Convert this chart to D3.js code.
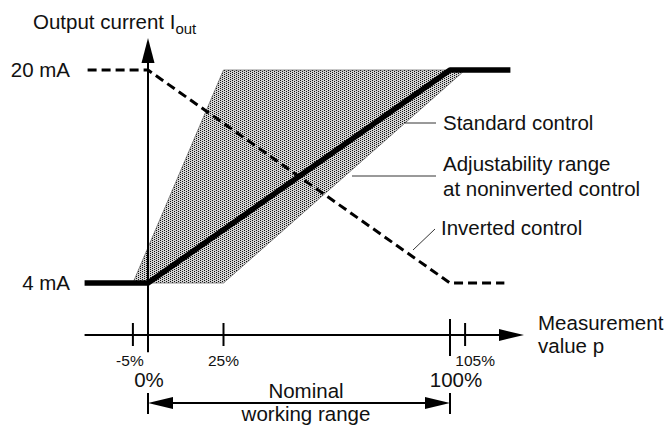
<!DOCTYPE html>
<html lang="en">
<head>
<meta charset="utf-8">
<title>Output current vs measurement value</title>
<script src="https://cdnjs.cloudflare.com/ajax/libs/d3/7.8.5/d3.min.js"></script>
<style>
body { margin: 0; background: #fff; }
svg { display: block; font-family: "Liberation Sans", Arial, sans-serif; }
.lbl { font-size: 20.5px; fill: #111; }
.small { font-size: 15.5px; fill: #111; }
</style>
</head>
<body>
<svg width="670" height="428"></svg>
<script>
// values in percent of measurement range and mA
var currentTicks = [4, 20];
var currentLabels = ["4 mA", "20 mA"];
var smallTicks = [-5, 25, 105];
var smallLabels = ["-5%", "25%", "105%"];
var bigTicks = [0, 100];
var bigLabels = ["0%", "100%"];
var xAxisExtent = [-21, 124.5];
var yAxisExtent = [-1.2, 22.4];

var standardControl = [[-21, 4], [0, 4], [100, 20], [120, 20]];
var invertedControl = [[-20, 20], [0, 20], [100, 4], [118, 4]];
var adjustRange = [[-5, 4], [25, 20], [105, 20], [25, 4]];
var nominalRange = [0, 100];

var svg = d3.select("svg");

var x = d3.scaleLinear().domain([0, 100]).range([148, 450]);
var y = d3.scaleLinear().domain([4, 20]).range([283, 70]);
var axisY = 335;

// dotted fill
var defs = svg.append("defs");
var pat = defs.append("pattern")
    .attr("id", "dots")
    .attr("patternUnits", "userSpaceOnUse")
    .attr("width", 4).attr("height", 2);
pat.append("rect").attr("width", 4).attr("height", 2).attr("fill", "#d2d2d2");
pat.append("rect").attr("x", 0).attr("y", 0).attr("width", 1).attr("height", 1).attr("fill", "#111");
pat.append("rect").attr("x", 2).attr("y", 1).attr("width", 1).attr("height", 1).attr("fill", "#111");

var arrowPts = function(len, half) { return "0,0 " + (-len) + "," + (-half) + " " + (-len) + "," + half; };

var line = d3.line().x(function(d) { return x(d[0]); }).y(function(d) { return y(d[1]); });

svg.append("path")
    .datum(adjustRange)
    .attr("d", function(d) { return line(d) + "Z"; })
    .attr("fill", "url(#dots)")
    .attr("stroke", "#444")
    .attr("stroke-width", 0.6);

// axes
svg.append("line")
    .attr("x1", x(xAxisExtent[0])).attr("x2", x(xAxisExtent[1]) - 20)
    .attr("y1", axisY).attr("y2", axisY)
    .attr("stroke", "#000").attr("stroke-width", 2);
svg.append("polygon")
    .attr("points", arrowPts(25, 6))
    .attr("transform", "translate(" + x(xAxisExtent[1]) + "," + axisY + ")");

svg.append("line")
    .attr("x1", x(0)).attr("x2", x(0))
    .attr("y1", y(yAxisExtent[0])).attr("y2", y(yAxisExtent[1]) + 20)
    .attr("stroke", "#000").attr("stroke-width", 2);
svg.append("polygon")
    .attr("points", arrowPts(25, 6.5))
    .attr("transform", "translate(" + x(0) + "," + y(yAxisExtent[1]) + ") rotate(-90)");

// inverted control (dashed)
svg.append("path")
    .datum(invertedControl)
    .attr("d", line)
    .attr("fill", "none")
    .attr("stroke", "#000")
    .attr("stroke-width", 3)
    .attr("stroke-dasharray", "9,5");

// standard control (thick)
svg.append("path")
    .datum(standardControl)
    .attr("d", line)
    .attr("fill", "none")
    .attr("stroke", "#000")
    .attr("stroke-width", 5.5)
    .attr("stroke-linejoin", "round");

// y labels
svg.selectAll(".ylab")
    .data(currentTicks)
  .enter().append("text")
    .attr("class", "lbl")
    .attr("x", 70)
    .attr("y", function(d) { return y(d) + 7; })
    .attr("text-anchor", "end")
    .text(function(d, i) { return currentLabels[i]; });

// x ticks
svg.selectAll(".stick")
    .data(smallTicks)
  .enter().append("line")
    .attr("x1", function(d) { return x(d); }).attr("x2", function(d) { return x(d); })
    .attr("y1", axisY - 12).attr("y2", axisY + 11)
    .attr("stroke", "#000").attr("stroke-width", 2);
svg.append("line")
    .attr("x1", x(100)).attr("x2", x(100))
    .attr("y1", axisY - 16).attr("y2", axisY + 21)
    .attr("stroke", "#000").attr("stroke-width", 2);

var smallShift = [-3, 0, 10];
svg.selectAll(".slab")
    .data(smallTicks)
  .enter().append("text")
    .attr("class", "small")
    .attr("x", function(d, i) { return x(d) + smallShift[i]; })
    .attr("y", 366)
    .attr("text-anchor", "middle")
    .text(function(d, i) { return smallLabels[i]; });

var bigShift = [1, 6];
svg.selectAll(".blab")
    .data(bigTicks)
  .enter().append("text")
    .attr("class", "lbl")
    .attr("x", function(d, i) { return x(d) + bigShift[i]; })
    .attr("y", 387)
    .attr("text-anchor", "middle")
    .text(function(d, i) { return bigLabels[i]; });

// nominal working range
var ny = 403;
svg.append("line")
    .attr("x1", x(nominalRange[0]) + 20).attr("x2", x(nominalRange[1]) - 20)
    .attr("y1", ny).attr("y2", ny)
    .attr("stroke", "#000").attr("stroke-width", 2);
svg.selectAll(".nend")
    .data(nominalRange)
  .enter().append("line")
    .attr("x1", function(d) { return x(d); }).attr("x2", function(d) { return x(d); })
    .attr("y1", ny - 10).attr("y2", ny + 11)
    .attr("stroke", "#000").attr("stroke-width", 2);
svg.append("polygon")
    .attr("points", arrowPts(25, 6))
    .attr("transform", "translate(" + x(nominalRange[1]) + "," + ny + ")");
svg.append("polygon")
    .attr("points", arrowPts(25, 6))
    .attr("transform", "translate(" + x(nominalRange[0]) + "," + ny + ") rotate(180)");

var mid = (x(nominalRange[0]) + x(nominalRange[1])) / 2;
svg.append("text").attr("class", "lbl").attr("x", mid + 7).attr("y", 398)
    .attr("text-anchor", "middle").text("Nominal");
svg.append("text").attr("class", "lbl").attr("x", mid + 7).attr("y", 421)
    .attr("text-anchor", "middle").text("working range");

// axis titles
var title = svg.append("text").attr("class", "lbl").attr("x", 33).attr("y", 29);
title.append("tspan").text("Output current I");
title.append("tspan").attr("font-size", "15px").attr("dy", 5).text("out");

svg.append("text").attr("class", "lbl").attr("x", 538).attr("y", 330).text("Measurement");
svg.append("text").attr("class", "lbl").attr("x", 538).attr("y", 353).text("value p");

// annotations
var notes = [
  {text: ["Standard control"], x: 443, y: 130, from: [405, 123], to: [436, 123]},
  {text: ["Adjustability range", "at noninverted control"], x: 443, y: 171, from: [352, 176], to: [436, 176]},
  {text: ["Inverted control"], x: 441, y: 235, from: [413, 250], to: [435, 229]}
];
notes.forEach(function(n) {
  svg.append("line")
      .attr("x1", n.from[0]).attr("y1", n.from[1])
      .attr("x2", n.to[0]).attr("y2", n.to[1])
      .attr("stroke", "#000").attr("stroke-width", 0.8);
  n.text.forEach(function(t, i) {
    svg.append("text").attr("class", "lbl")
        .attr("x", n.x).attr("y", n.y + i * 25)
        .text(t);
  });
});
</script>
</body>
</html>
